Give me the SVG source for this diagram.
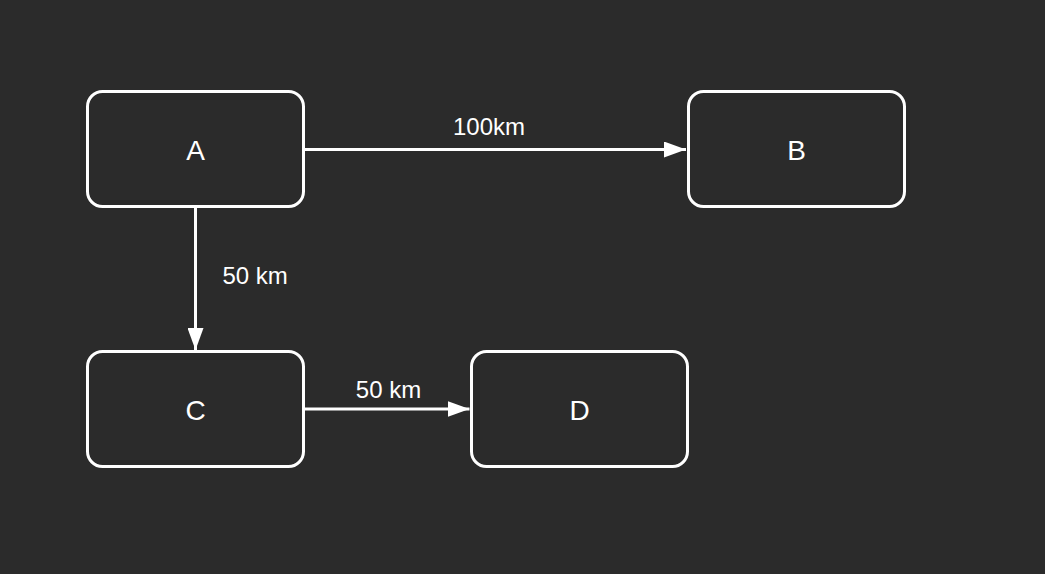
<svg xmlns="http://www.w3.org/2000/svg" width="1045" height="574" viewBox="0 0 1045 574">
<defs>
<style>
.node rect{fill:#2b2b2b;stroke:#ffffff;stroke-width:3}
.node text{fill:#ffffff;font-family:"Liberation Sans",Arial,sans-serif;font-size:28px;text-anchor:middle}
.edge{stroke:#ffffff;stroke-width:3;fill:none}
.lbl{fill:#ffffff;font-family:"Liberation Sans",Arial,sans-serif;font-size:24px}
</style>
<marker id="arr" viewBox="0 0 22 16" refX="22" refY="8" markerWidth="22" markerHeight="16" markerUnits="userSpaceOnUse" orient="auto">
<path d="M0,0 L22,8 L0,16 z" fill="#ffffff"/>
</marker>
</defs>
<rect width="1045" height="574" fill="#2b2b2b"/>
<g id="connectors">
<line class="edge" x1="305" y1="149.5" x2="686" y2="149.5" marker-end="url(#arr)"/>
<line class="edge" x1="195.5" y1="207" x2="195.5" y2="350" marker-end="url(#arr)"/>
<line class="edge" x1="305" y1="409" x2="469.5" y2="409" marker-end="url(#arr)"/>
<text class="lbl" x="489" y="135" text-anchor="middle">100km</text>
<text class="lbl" x="222.5" y="284">50 km</text>
<text class="lbl" x="388.5" y="398" text-anchor="middle">50 km</text>
</g>
<g id="node-A" class="node"><rect x="87.5" y="91.5" width="216" height="115" rx="15"/><text x="195.5" y="160">A</text></g>
<g id="node-B" class="node"><rect x="688.5" y="91.5" width="216" height="115" rx="15"/><text x="796.5" y="160">B</text></g>
<g id="node-C" class="node"><rect x="87.5" y="351.5" width="216" height="115" rx="15"/><text x="195.5" y="420">C</text></g>
<g id="node-D" class="node"><rect x="471.5" y="351.5" width="216" height="115" rx="15"/><text x="579.5" y="420">D</text></g>
</svg>
